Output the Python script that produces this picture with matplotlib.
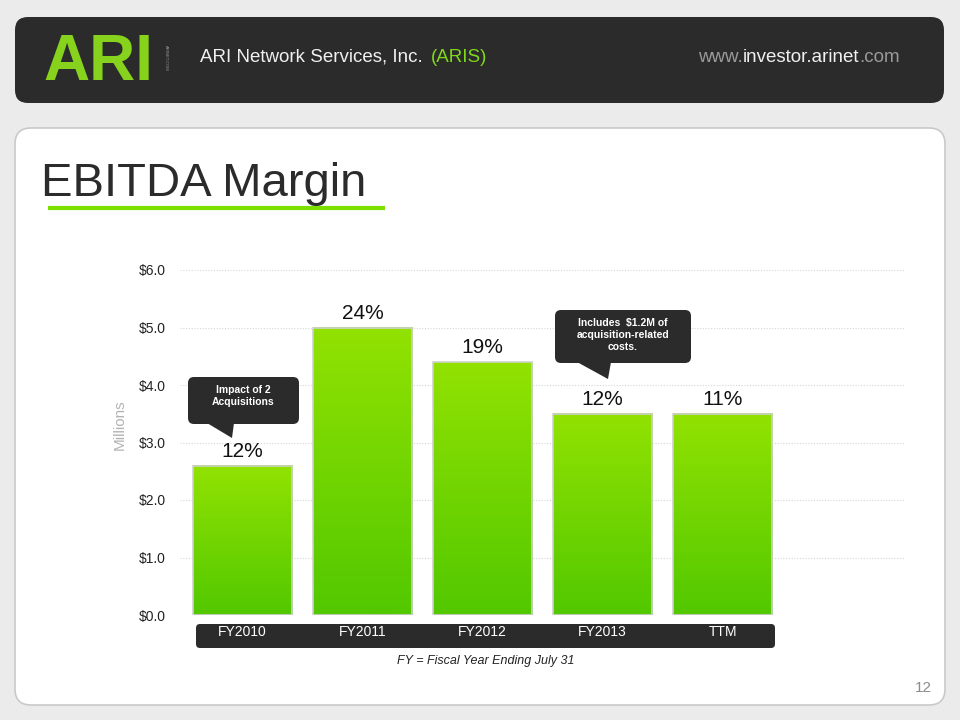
import numpy as np
import matplotlib
matplotlib.use("Agg")
import matplotlib.pyplot as plt
from matplotlib.patches import FancyBboxPatch, Rectangle, Polygon
from matplotlib.colors import LinearSegmentedColormap

plt.rcParams['font.family'] = ['Liberation Sans', 'DejaVu Sans']

# data
categories = ['FY2010', 'FY2011', 'FY2012', 'FY2013', 'TTM']
ebitda = [2.6, 5.0, 4.4, 3.5, 3.5]
margins = ['12%', '24%', '19%', '12%', '11%']
y_ticks = [0, 1, 2, 3, 4, 5, 6]
y_labels = ['$%.1f' % t for t in y_ticks]

DARK = '#2b2b2b'
GREEN = '#7fd81a'

fig = plt.figure(figsize=(9.6, 7.2), dpi=100)
fig.patch.set_facecolor('#ebebeb')

# background layer in pixel coords
bg = fig.add_axes([0, 0, 1, 1], zorder=0)
bg.set_xlim(0, 960)
bg.set_ylim(720, 0)
bg.axis('off')

bg.add_patch(FancyBboxPatch((15, 17), 929, 86, boxstyle='round,pad=0,rounding_size=13',
                            fc=DARK, ec='none'))
bg.add_patch(FancyBboxPatch((15, 128), 930, 577, boxstyle='round,pad=0,rounding_size=16',
                            fc='white', ec='#c9c9c9', lw=1.2))

# header
bg.text(43, 80, 'ARI', color='#86d21c', fontsize=46, fontweight='bold', va='baseline')
bg.text(166, 58, 'ARINET.COM', color='#9a9a9a', fontsize=3, rotation=270, va='center', ha='center')
t1 = bg.text(200, 62, 'ARI Network Services, Inc.', color='#f0f0f0', fontsize=13.5, va='baseline')
bg.annotate('(ARIS)', xy=(1, 62), xycoords=(t1, 'data'), xytext=(6, 0), textcoords='offset points',
            color=GREEN, fontsize=13.5, va='baseline')
t_com = bg.text(900, 62, '.com', color='#9a9a9a', fontsize=13.5, va='baseline', ha='right')
t_inv = bg.annotate('investor.arinet', xy=(0, 62), xycoords=(t_com, 'data'), color='#f0f0f0',
                    fontsize=13.5, va='baseline', ha='right')
bg.annotate('www.', xy=(0, 62), xycoords=(t_inv, 'data'), color='#9a9a9a',
            fontsize=13.5, va='baseline', ha='right')

# title
bg.text(41, 196, 'EBITDA Margin', color=DARK, fontsize=34, va='baseline')
bg.plot([48, 385], [208, 208], color='#7ddf00', lw=3, solid_capstyle='butt')

# page number
bg.text(932, 688, '12', color='#8c8c8c', fontsize=11, ha='right', va='center')

# chart
ax = fig.add_axes([180 / 960, (720 - 615) / 720, 725 / 960, 345 / 720], zorder=2)
ax.set_facecolor('none')
x = np.arange(len(categories))
w = 0.825
cmap = LinearSegmentedColormap.from_list('g', ['#52c800', '#92e202'])
grad = np.linspace(0, 1, 256).reshape(-1, 1)
for xi, v in zip(x, ebitda):
    ax.imshow(grad, extent=[xi - w / 2, xi + w / 2, 0, v], origin='lower', cmap=cmap,
              aspect='auto', zorder=2)
    ax.add_patch(Rectangle((xi - w / 2, 0), w, v, fc='none', ec='#cfcfcf', lw=1.2, zorder=3))
for xi, v, m in zip(x, ebitda, margins):
    ax.text(xi, v + 0.25, m, ha='center', va='center', fontsize=15, color='#111111')

ax.set_xlim(-0.52, 5.52)
ax.set_ylim(0, 6)
ax.set_yticks(y_ticks)
ax.set_yticklabels(y_labels, fontsize=10, color='#222222')
ax.set_xticks([])
ax.tick_params(axis='y', length=0, pad=10)
for s in ax.spines.values():
    s.set_visible(False)
ax.grid(axis='y', color='#d6d6d6', linestyle=(0, (1, 1.5)), lw=0.8, zorder=1)
ax.set_axisbelow(True)

# foreground layer
fg = fig.add_axes([0, 0, 1, 1], zorder=3)
fg.set_xlim(0, 960)
fg.set_ylim(720, 0)
fg.axis('off')
fg.patch.set_alpha(0)

fg.text(120, 425, 'Millions', color='#b3b3b3', fontsize=11, rotation=90, ha='center', va='center')

# category band
fg.add_patch(FancyBboxPatch((196, 624), 579, 24, boxstyle='round,pad=0,rounding_size=4',
                            fc=DARK, ec='none'))
for xi, c in zip(x, categories):
    px = ax.transData.transform((xi, 0))[0]
    fg.text(px, 632, c, color='white', fontsize=10, ha='center', va='center')
fg.text(486, 661, 'FY = Fiscal Year Ending July 31', color='#222222', fontsize=9,
        style='italic', ha='center', va='center')

# callouts
fg.add_patch(FancyBboxPatch((188, 377), 111, 47, boxstyle='round,pad=0,rounding_size=6',
                            fc=DARK, ec='none'))
fg.add_patch(Polygon([(207, 423), (234, 423), (232, 438)], closed=True, fc=DARK, ec='none'))
fg.text(243, 396, 'Impact of 2\nAcquisitions', color='white', fontsize=7.5, fontweight='bold',
        ha='center', va='center', linespacing=1.25)

fg.add_patch(FancyBboxPatch((555, 310), 136, 53, boxstyle='round,pad=0,rounding_size=6',
                            fc=DARK, ec='none'))
fg.add_patch(Polygon([(577, 362), (611, 362), (608, 379)], closed=True, fc=DARK, ec='none'))
fg.text(623, 335, 'Includes  $1.2M of\nacquisition-related\ncosts.', color='white', fontsize=7.5,
        fontweight='bold', ha='center', va='center', linespacing=1.25)

fig.savefig('out.png', dpi=100, facecolor=fig.get_facecolor())
